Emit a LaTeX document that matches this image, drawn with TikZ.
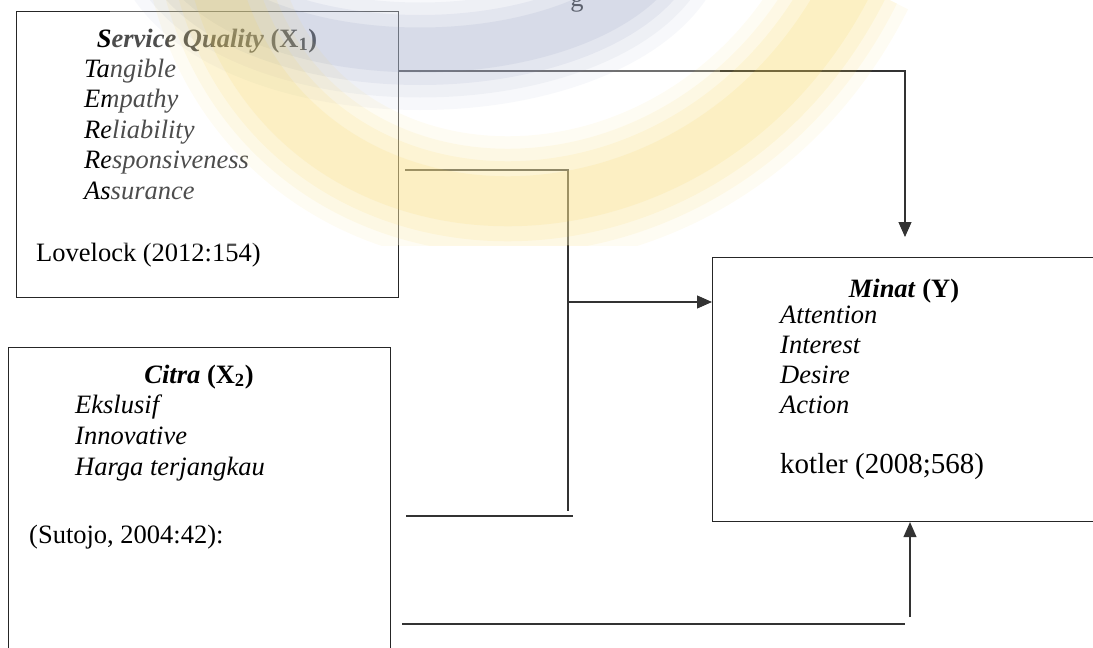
\documentclass[tikz,border=0pt]{standalone}
\usepackage{fontspec}
\setmainfont{Liberation Serif}
\usetikzlibrary{arrows.meta}
\definecolor{wmyellow}{HTML}{F7D452}
\definecolor{wmblue}{HTML}{8190B8}
\begin{document}
\begin{tikzpicture}[x=1pt,y=-1pt,
  box/.style={draw=black!85, line width=1.1pt, anchor=north west, inner sep=0pt},
  txt/.style={anchor=base west, inner sep=0pt, font=\fontsize{26.5}{30.5}\selectfont},
  ttl/.style={anchor=base, inner sep=0pt, font=\fontsize{26.5}{30.5}\selectfont},
  conn/.style={draw=black!80, line width=1.1pt},
  arr/.style={conn, -{Triangle[length=15pt,width=13pt]}},
]
\useasboundingbox (0,0) rectangle (1093,648);
\clip (0,0) rectangle (1093,648);

% partial heading letter at the top edge
\node[ttl] (hd) at (577,6) {g};

% boxes
\node[box, minimum width=382pt, minimum height=286pt] (sq) at (16,11) {};
\node[box, minimum width=382pt, minimum height=330pt] (ct) at (8,347) {};
\node[box, minimum width=420pt, minimum height=264pt] (mn) at (712,257) {};

% Service Quality
\node[ttl] (sqt) at (207,47) {\textbf{\textit{Service Quality}} \textbf{(X\textsubscript{1})}};
\node[txt] (s1) at (84,77) {\textit{Tangible}};
\node[txt] (s2) at (84,107.5) {\textit{Empathy}};
\node[txt] (s3) at (84,138) {\textit{Reliability}};
\node[txt] (s4) at (84,168.5) {\textit{Responsiveness}};
\node[txt] (s5) at (84,199) {\textit{Assurance}};
\node[txt] (s6) at (36,261) {Lovelock (2012:154)};

% Citra
\node[ttl] (ctt) at (199,383) {\textbf{\textit{Citra}} \textbf{(X\textsubscript{2})}};
\node[txt] (c1t) at (75,413) {\textit{Ekslusif}};
\node[txt] (c2t) at (75,444) {\textit{Innovative}};
\node[txt] (c3t) at (75,475) {\textit{Harga terjangkau}};
\node[txt] (c4t) at (29,543) {(Sutojo, 2004:42):};

% Minat
\node[ttl] (mnt) at (904,297) {\textbf{\textit{Minat}} \textbf{(Y)}};
\node[txt] (m1) at (780,323.5) {\textit{Attention}};
\node[txt] (m2) at (780,353.5) {\textit{Interest}};
\node[txt] (m3) at (780,383.5) {\textit{Desire}};
\node[txt] (m4) at (780,413.5) {\textit{Action}};
\node[txt, font=\fontsize{29}{33}\selectfont] (m5) at (780,473) {kotler (2008;568)};

% connectors
\coordinate (k1) at (905,71);
\coordinate (k1e) at (905,237);
\draw[arr] (sq.east |- k1) -- (k1) -- (k1e);

\coordinate (k2) at (568,170);
\coordinate (k2e) at (568,511);
\draw[conn] ([xshift=6pt]sq.east |- k2) -- (k2) -- (k2e);

\coordinate (k3) at (568,302);
\draw[arr] (k3) -- (k3 -| mn.west);

\coordinate (k4) at (573,516);
\draw[conn] ([xshift=15pt]ct.east |- k4) -- (k4);

\coordinate (k5) at (905,624);
\draw[conn] ([xshift=11pt]ct.east |- k5) -- (k5);
\coordinate (k6) at (910,617);
\draw[arr] (k6) -- (k6 |- mn.south);

% watermark (semi-transparent, over the drawing)
\begin{scope}
\clip (0,0) rectangle (1093,245);
\fill[white, opacity=0.3] (110,0) rectangle (720,245);
\foreach \w/\o in {120/0.06, 95/0.08, 70/0.10, 45/0.12}{
  \draw[wmblue, line width=\w pt, opacity=\o] (420,-75) ellipse (250 and 125);
}
\foreach \w/\o in {130/0.07, 105/0.09, 80/0.11, 50/0.13}{
  \draw[wmyellow, line width=\w pt, opacity=\o] (215,-20) .. controls (290,270) and (700,280) .. (850,-20);
}
\end{scope}
\end{tikzpicture}
\end{document}
